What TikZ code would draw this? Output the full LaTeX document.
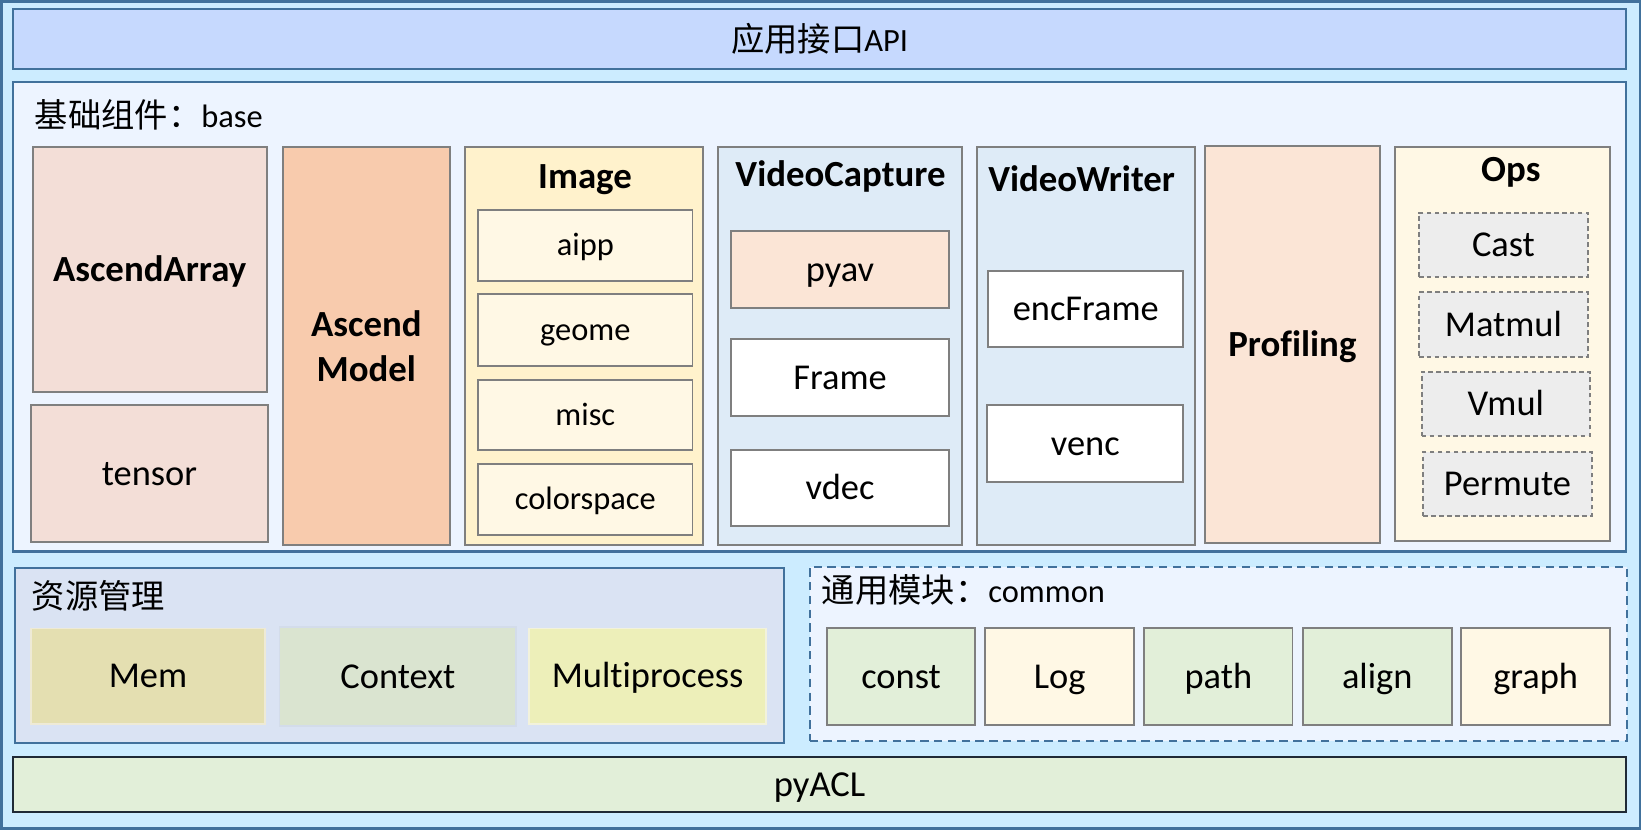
\documentclass[tikz,border=0pt]{standalone}
\usepackage{fontspec}
\setmainfont[Ligatures=NoCommon]{Carlito}
\newfontfamily\cjk{Noto Sans CJK SC}
\definecolor{outerfill}{HTML}{CCECFF}
\definecolor{blueline}{HTML}{41719C}
\definecolor{apifill}{HTML}{C6D9FE}
\definecolor{basefill}{HTML}{EDF4FF}
\definecolor{grayline}{HTML}{7F7F7F}
\definecolor{arrfill}{HTML}{F3DED7}
\definecolor{modelfill}{HTML}{F8CBAD}
\definecolor{imgfill}{HTML}{FFF2CC}
\definecolor{subfill}{HTML}{FFF8E5}
\definecolor{vcfill}{HTML}{DEEBF7}
\definecolor{peachfill}{HTML}{FBE5D6}
\definecolor{opitem}{HTML}{EDEDED}
\definecolor{resfill}{HTML}{DAE3F3}
\definecolor{memfill}{HTML}{E4DFB1}
\definecolor{memline}{HTML}{EEEAD6}
\definecolor{ctxfill}{HTML}{DAE4D0}
\definecolor{ctxline}{HTML}{D3DCEA}
\definecolor{mpfill}{HTML}{EDEFB9}
\definecolor{mpline}{HTML}{F2F2DC}
\definecolor{greenfill}{HTML}{E2EFD9}
\definecolor{darkline}{HTML}{1F2A36}
% \mybox{style}{name}{x1}{y1}{x2}{y2}{text}
\newcommand\mybox[7]{\node[#1, anchor=north west, minimum width={(#5-#3)*0.5pt}, minimum height={(#6-#4)*0.5pt}] (#2) at (#3,#4) {#7};}
\newcommand\cjkpart[1]{{\cjk\fontsize{15.9}{18}\selectfont #1}}
\begin{document}
\begin{tikzpicture}[x=0.5pt,y=-0.5pt,
  box/.style={draw=grayline, line width=0.9pt, inner sep=0pt, outer sep=0pt, text height=11.2pt, text depth=0pt, font=\fontsize{17.4}{20}\selectfont},
  boldbox/.style={box, font=\fontsize{17.6}{21}\selectfont\bfseries},
  subbox/.style={box, fill=subfill, text height=10pt, font=\fontsize{15.5}{18}\selectfont},
  opbox/.style={box, fill=opitem, dash pattern=on 2.2pt off 1.6pt},
  resbox/.style={box, line width=0.8pt},
  panel/.style={draw=blueline, line width=1pt, inner sep=0pt, outer sep=0pt},
  cjkbox/.style={panel, text height=11.8pt, text depth=0pt, font=\fontsize{15.5}{18}\selectfont},
  titletext/.style={font=\fontsize{17.6}{21}\selectfont\bfseries, anchor=base, inner sep=0pt},
  cjklabel/.style={font=\fontsize{15.5}{18}\selectfont, anchor=base west, inner sep=0pt}]
\useasboundingbox (0,0) rectangle (1568,793);
% outer frame
\mybox{draw=blueline, fill=outerfill, line width=1.2pt, inner sep=0pt, outer sep=0pt}{outer}{1.2}{1.2}{1566.8}{791.8}{}
% application API
\mybox{cjkbox, fill=apifill}{api}{12.7}{9}{1553.6}{66}{\cjkpart{应用接口}API}
% base components
\mybox{panel, fill=basefill}{base}{12.7}{78.5}{1553.6}{527}{}
\node[cjklabel] (basetitle) at (33,121.5) {\cjkpart{基础组件：}base};
\mybox{boldbox, fill=arrfill}{array}{31.2}{140.2}{254.8}{374.9}{AscendArray}
\mybox{box, fill=arrfill}{tensor}{29.3}{387}{256.4}{518.2}{tensor}
\mybox{box, fill=modelfill}{model}{270.1}{140.2}{430}{520.7}{}
\node[font=\fontsize{17.6}{21.5}\selectfont\bfseries, align=center, inner sep=0pt] (modeltext) at (model.center) {Ascend\\Model};
% Image
\mybox{box, fill=imgfill}{image}{444.3}{140.2}{671.9}{520.7}{}
\node[titletext] (imagetitle) at (559,180) {Image};
\mybox{subbox}{aipp}{456.9}{200.6}{661.7}{268.5}{aipp}
\mybox{subbox}{geome}{456.9}{281.2}{661.7}{349.7}{geome}
\mybox{subbox}{misc}{456.9}{363.1}{661.7}{430}{misc}
\mybox{subbox}{colorspace}{456.9}{443.4}{661.7}{511.2}{colorspace}
% VideoCapture
\mybox{box, fill=vcfill}{vcap}{686}{140.2}{919.2}{520.7}{}
\node[titletext] (vcaptitle) at (803.1,178) {VideoCapture};
\mybox{box, fill=peachfill}{pyav}{698.5}{220.4}{906.8}{294.6}{pyav}
\mybox{box, fill=white}{frame}{698.5}{323.9}{906.8}{397.5}{Frame}
\mybox{box, fill=white}{vdec}{698.5}{430}{906.8}{502.6}{vdec}
% VideoWriter
\mybox{box, fill=vcfill}{vwrite}{933.2}{140.2}{1141.8}{520.7}{}
\node[titletext] (vwritetitle) at (1033.5,183) {VideoWriter};
\mybox{box, fill=white}{encframe}{944.3}{258.6}{1130.6}{331.2}{encFrame}
\mybox{box, fill=white}{venc}{943.4}{387}{1130.6}{460.2}{venc}
% Profiling
\mybox{boldbox, fill=peachfill}{profiling}{1151.3}{139.2}{1318.5}{519.1}{Profiling}
% Ops
\mybox{box, fill=subfill}{ops}{1332.9}{140.2}{1538.3}{516.6}{}
\node[titletext] (opstitle) at (1443.6,173) {Ops};
\mybox{opbox}{cast}{1355.8}{203.2}{1517.3}{264.4}{Cast}
\mybox{opbox}{matmul}{1355.8}{279.3}{1517.3}{340.8}{Matmul}
\mybox{opbox}{vmul}{1358.4}{355.1}{1519.2}{416.6}{Vmul}
\mybox{opbox}{permute}{1360}{431.6}{1520.8}{493}{Permute}
% resource management
\mybox{panel, fill=resfill}{res}{14}{543}{749.2}{710.2}{}
\node[cjklabel] (restitle) at (30,581.5) {\cjkpart{资源管理}};
\mybox{resbox, draw=memline, fill=memfill}{mem}{29.3}{600.4}{253.5}{691.8}{Mem}
\mybox{resbox, draw=ctxline, fill=ctxfill}{context}{267.1}{599.4}{493.3}{693.4}{Context}
\mybox{resbox, draw=mpline, fill=mpfill}{multiproc}{505.5}{600.4}{732.2}{691.8}{Multiprocess}
% common modules
\mybox{panel, fill=basefill, dash pattern=on 4pt off 2.6pt}{common}{773.6}{541.4}{1554.3}{707.7}{}
\node[cjklabel] (commontitle) at (785,576) {\cjkpart{通用模块：}common};
\mybox{box, fill=greenfill}{const}{790}{600.4}{932}{692.7}{const}
\mybox{box, fill=subfill}{log}{941.2}{600.4}{1083.7}{692.7}{Log}
\mybox{box, fill=greenfill}{path}{1093.4}{600.4}{1235}{692.7}{path}
\mybox{box, fill=greenfill}{align}{1244.7}{600.4}{1387.2}{692.7}{align}
\mybox{box, fill=subfill}{graph}{1396.4}{600.4}{1538.3}{692.7}{graph}
% pyACL
\mybox{box, draw=darkline, line width=1pt, fill=greenfill, font=\fontsize{17.5}{20}\selectfont}{pyacl}{12.7}{723}{1553.6}{776.2}{pyACL}
\end{tikzpicture}
\end{document}
